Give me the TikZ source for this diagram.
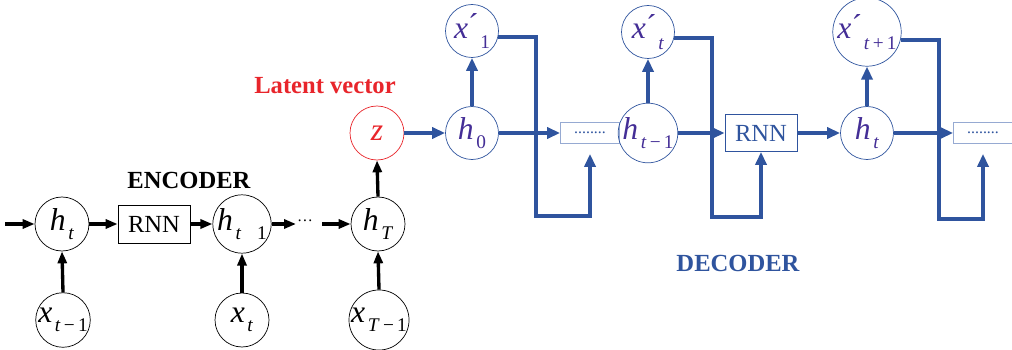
\documentclass[tikz,border=0pt]{standalone}
\usepackage{fontspec}
\setmainfont{Liberation Serif}[ItalicFont={Liberation Serif Italic}, BoldFont={Liberation Serif Bold}]
\usepackage{xcolor}
\usepackage{tikz}
\usetikzlibrary{arrows.meta,positioning}
\definecolor{decblue}{RGB}{47,84,158}
\definecolor{declabel}{RGB}{68,46,150}
\definecolor{dotsline}{RGB}{150,170,210}
\definecolor{latred}{RGB}{232,37,43}
\newcommand{\vsub}[2]{\textit{#1}\kern1.5pt\raisebox{-0.6ex}{\fontsize{11}{12}\selectfont #2}}
\newcommand{\vprime}[2]{\textit{x}\raisebox{0.15ex}{\textasciiacute}\kern1pt\raisebox{-0.7ex}{\fontsize{11}{12}\selectfont #2}}
\tikzset{
  enode/.style={draw, circle, thin, minimum size=10.8mm, inner sep=0pt, font=\fontsize{18}{20}\selectfont},
  dnode/.style={draw=decblue, circle, thin, minimum size=10.6mm, inner sep=0pt, text=declabel, font=\fontsize{18}{20}\selectfont},
  ebox/.style={draw, thin, minimum width=14.4mm, minimum height=7.6mm, inner sep=0pt, font=\fontsize{14}{16}\selectfont},
  dbox/.style={draw=decblue, thin, minimum width=14.4mm, minimum height=7.4mm, inner sep=0pt, text=decblue, font=\fontsize{14}{16}\selectfont},
  ddots/.style={draw=dotsline, thin, minimum width=11.8mm, minimum height=4.2mm, inner sep=0pt, text=decblue, font=\small},
  earrow/.style={-{Triangle[length=2.4mm,width=1.8mm]}, line width=1.9pt},
  darrow/.style={-{Triangle[length=2.6mm,width=2.2mm]}, line width=2.2pt, draw=decblue},
  dtitle/.style={font=\bfseries\fontsize{14}{16}\selectfont}
}
\begin{document}
\begin{tikzpicture}[x=0.2mm,y=-0.2mm]
\useasboundingbox (0,0) rectangle (1012,350);
% encoder
\node[enode] (ht) at (62,224) {\vsub{h}{\textit{t}}};
\node[ebox] (rnnE) at (154,224) {RNN};
\node[enode] (htn) at (242,224) {\vsub{h}{\textit{t}\hspace{9pt}1}};
\node[enode] (hT) at (378,224) {\vsub{h}{\textit{T}}};
\node[enode] (xtm) at (63,320) {\vsub{x}{\textit{t}\,−\,1}};
\node[enode] (xt) at (242,320) {\vsub{x}{\textit{t}}};
\node[enode] (xTm) at (379,320) {\vsub{x}{\textit{T}\,−\,1}};
\node[font=\small] (edots) at (305,221) {…};
\coordinate (e0) at (5,224);
\coordinate (e1) at (296,224);
\coordinate (e2) at (322,224);
\node[dtitle] (enc) at (189,180) {ENCODER};

% latent
\node[enode, draw=latred, text=latred] (z) at (377,133) {\textit{z}};
\node[dtitle, text=latred] (lat) at (325,86) {Latent vector};

% decoder
\node[dnode] (h0) at (472,133) {\vsub{h}{0}};
\node[dnode] (xp1) at (472,31) {\vprime{x}{1}};
\node[ddots] (dA) at (590,133) {........};
\node[dnode] (htm) at (648,133) {\vsub{h}{\textit{t}\,−\,1}};
\node[dnode] (xpt) at (648,32) {\vprime{x}{\textit{t}}};
\node[dbox] (rnnD) at (761,133) {RNN};
\node[dnode] (hnt) at (867,133) {\vsub{h}{\textit{t}}};
\node[dnode] (xptn) at (867,32) {\vprime{x}{\textit{t}\,+\,1}};
\node[ddots] (dB) at (983,133) {........};
\node[dtitle, text=decblue] (dec) at (738,263) {DECODER};

\draw[earrow] (e0) -- (ht.west);
\draw[earrow] (ht.east) -- (rnnE.west);
\draw[earrow] (rnnE.east) -- (htn.west);
\draw[earrow] (htn.east) -- (e1);
\draw[earrow] (e2) -- (hT.west);
\draw[earrow] (xtm.north) -- (ht.south);
\draw[earrow] (xt.north) -- (htn.south);
\draw[earrow] (xTm.north) -- (hT.south);
\draw[earrow] (hT.north) -- (z.south);

\draw[darrow] (z.east) -- (h0.west);
\draw[darrow] (h0.north) -- (xp1.south);
\draw[darrow] (htm.north) -- (xpt.south);
\draw[darrow] (hnt.north) -- (xptn.south);
\draw[darrow] (h0.east) -- (dA.west);
\draw[darrow] (htm.east) -- (rnnD.west);
\draw[darrow] (rnnD.east) -- (hnt.west);
\draw[darrow] (hnt.east) -- (dB.west);
% feedback of the outputs
\draw[darrow, shorten >=2mm] (xp1.-13) -- ++(38,0) -- ++(0,179) -| (dA.south);
\draw[darrow] (xpt.-13) -- ++(38,0) -- ++(0,179) -| (rnnD.south);
\draw[darrow, shorten >=2mm] (xptn.-13) -- ++(38,0) -- ++(0,179) -| (dB.south);
\end{tikzpicture}
\end{document}
